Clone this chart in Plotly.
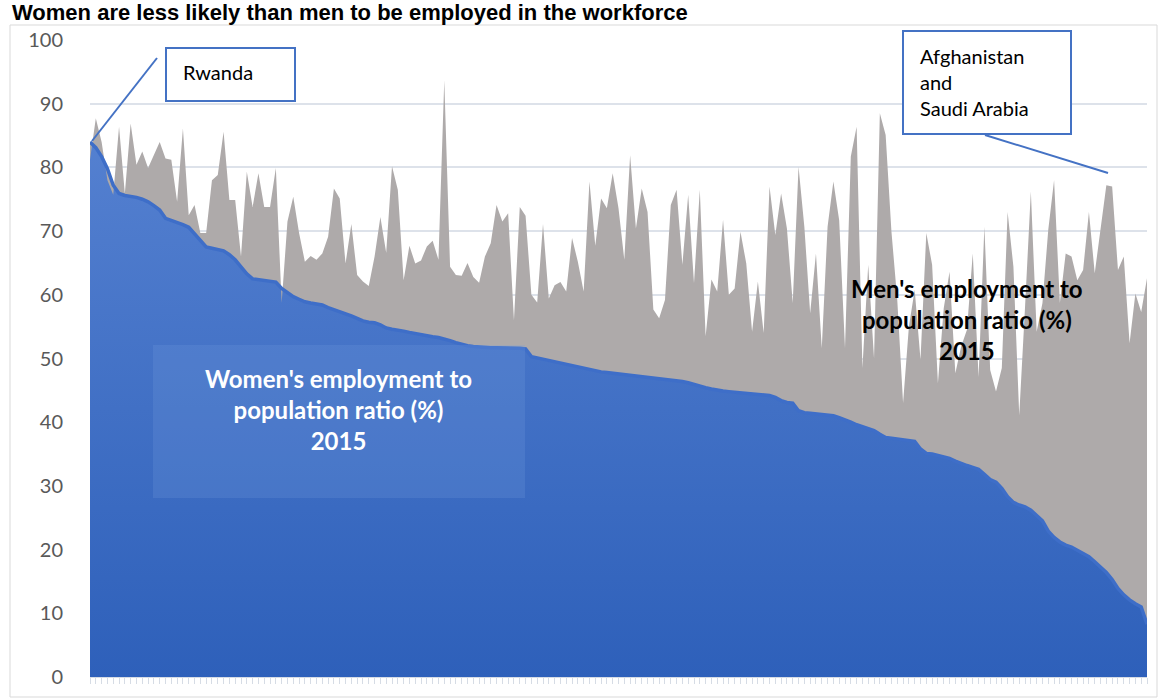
import plotly.graph_objects as go

# Employment-to-population ratio (%) 2015, countries sorted by women's ratio
women = [84.0, 83.1, 81.7, 79.8, 77.2, 75.9, 75.6, 75.5, 75.3, 75.0,
         74.6, 74.0, 73.3, 72.0, 71.7, 71.4, 71.0, 70.6, 69.6, 68.4,
         67.5, 67.3, 67.1, 66.9, 66.3, 65.5, 64.4, 63.3, 62.5, 62.4,
         62.3, 62.2, 62.0, 61.0, 60.3, 59.7, 59.3, 58.9, 58.7, 58.6,
         58.4, 58.0, 57.7, 57.4, 57.0, 56.7, 56.3, 55.9, 55.7, 55.6,
         55.3, 54.8, 54.6, 54.5, 54.3, 54.1, 53.9, 53.8, 53.6, 53.4,
         53.3, 53.1, 52.8, 52.5, 52.2, 52.0, 51.9, 51.8, 51.8, 51.7,
         51.7, 51.7, 51.6, 51.6, 51.6, 51.5, 50.3, 50.1, 49.9, 49.7,
         49.5, 49.3, 49.0, 48.8, 48.7, 48.5, 48.3, 48.1, 47.9, 47.8,
         47.7, 47.6, 47.5, 47.4, 47.3, 47.2, 47.1, 47.0, 46.9, 46.8,
         46.7, 46.6, 46.4, 46.2, 45.9, 45.7, 45.4, 45.2, 45.0, 44.9,
         44.8, 44.7, 44.6, 44.5, 44.5, 44.4, 44.3, 44.2, 43.9, 43.4,
         43.1, 43.0, 41.8, 41.5, 41.4, 41.3, 41.2, 41.1, 41.0, 40.7,
         40.4, 40.0, 39.6, 39.3, 39.0, 38.7, 38.1, 37.6, 37.5, 37.4,
         37.3, 37.2, 37.0, 35.8, 35.1, 35.0, 34.8, 34.6, 34.3, 33.9,
         33.5, 33.2, 32.9, 32.6, 31.8, 31.0, 30.6, 29.6, 28.3, 27.4,
         27.0, 26.7, 26.2, 25.4, 24.5, 22.9, 21.9, 21.2, 20.7, 20.4,
         19.9, 19.4, 18.9, 18.1, 17.2, 16.4, 15.3, 13.9, 12.9, 12.1,
         11.5, 11.0, 8.3]

men = [81.2, 87.7, 84.0, 78.0, 75.7, 86.4, 75.9, 86.9, 80.4, 82.5,
       79.9, 82.0, 84.0, 81.4, 81.2, 74.6, 86.1, 72.5, 74.1, 69.7,
       69.7, 78.0, 78.8, 85.6, 74.9, 74.9, 66.0, 79.3, 73.8, 79.1,
       73.8, 73.8, 79.9, 58.7, 71.5, 75.4, 69.7, 65.2, 66.1, 65.5,
       66.5, 69.1, 76.7, 75.1, 64.9, 71.1, 63.1, 62.1, 61.4, 66.0,
       72.2, 66.6, 80.2, 76.5, 62.3, 67.7, 64.9, 65.4, 67.6, 68.5,
       65.5, 93.7, 64.4, 63.1, 63.0, 65.0, 62.8, 61.9, 66.0, 68.1,
       74.1, 71.5, 72.8, 56.0, 73.8, 72.4, 60.0, 58.8, 71.1, 59.4,
       61.5, 62.0, 60.5, 68.9, 65.2, 60.5, 77.8, 67.7, 75.1, 73.6,
       79.1, 73.6, 65.5, 81.9, 70.4, 76.7, 73.0, 57.7, 56.3, 59.2,
       74.1, 76.5, 64.7, 75.7, 61.8, 76.5, 53.5, 62.4, 60.5, 71.8,
       60.0, 61.0, 69.9, 64.9, 54.2, 62.1, 54.0, 77.0, 69.4, 75.9,
       70.4, 58.7, 80.1, 70.7, 57.1, 66.5, 51.6, 70.7, 77.8, 71.7,
       51.6, 81.7, 86.4, 48.5, 64.7, 50.0, 88.5, 85.1, 69.9, 59.2,
       43.0, 55.0, 60.8, 49.8, 69.7, 64.7, 46.1, 57.9, 63.6, 47.7,
       51.9, 54.5, 66.5, 47.1, 70.7, 48.2, 44.8, 48.5, 73.0, 64.4,
       41.1, 58.1, 76.2, 54.2, 58.7, 70.2, 78.0, 58.7, 66.5, 66.0,
       62.3, 63.9, 73.0, 63.4, 70.2, 77.2, 77.0, 63.9, 66.0, 52.4,
       60.2, 57.3, 62.6]

if len(women) != len(men):
    raise ValueError(f"series lengths differ: {len(women)} vs {len(men)}")

countries = list(range(len(women)))
y_ticks = [0, 10, 20, 30, 40, 50, 60, 70, 80, 90, 100]

BLUE = "#4472C4"
GREY = "#AEAAAA"

fig = go.Figure()

# women's area with a vertical blue gradient
fig.add_trace(go.Scatter(
    x=countries, y=women, mode="lines", line=dict(width=0, color=BLUE),
    fill="tozeroy",
    fillgradient=dict(type="vertical",
                      colorscale=[[0, "rgb(46,96,186)"], [1, "rgb(84,128,208)"]]),
    hoverinfo="skip", showlegend=False,
))
# gap up to men's ratio
fig.add_trace(go.Scatter(
    x=countries, y=men, mode="lines", line=dict(width=0, color=GREY),
    fill="tonexty", fillcolor=GREY, hoverinfo="skip", showlegend=False,
))
# women's outline drawn on top
fig.add_trace(go.Scatter(
    x=countries, y=women, mode="lines",
    line=dict(width=3.5, color="rgb(62,110,200)"),
    hoverinfo="skip", showlegend=False,
))

L, R, T, B = 90, 11, 40, 21
W, H = 1158, 698
pw, ph = W - L - R, H - T - B


def px(xp):
    return (xp - L) / pw


def py(yp):
    return (H - B - yp) / ph


shapes = [
    # outer chart border
    dict(type="rect", xref="paper", yref="paper", x0=px(10), x1=px(1157),
         y0=py(697), y1=py(25), line=dict(color="#D9D9D9", width=1),
         fillcolor="rgba(0,0,0,0)", layer="below"),
    # women's label panel
    dict(type="rect", xref="paper", yref="paper", x0=px(153), x1=px(525),
         y0=py(498), y1=py(345), line=dict(width=0),
         fillcolor="rgba(120,160,225,0.22)"),
    # callout boxes
    dict(type="rect", xref="paper", yref="paper", x0=px(166), x1=px(295),
         y0=py(101), y1=py(48), line=dict(color=BLUE, width=2),
         fillcolor="white"),
    dict(type="rect", xref="paper", yref="paper", x0=px(903), x1=px(1071),
         y0=py(134), y1=py(31), line=dict(color=BLUE, width=2),
         fillcolor="white"),
    # callout leader lines
    dict(type="line", xref="paper", yref="paper", x0=px(92), y0=py(141),
         x1=px(157), y1=py(58), line=dict(color=BLUE, width=2)),
    dict(type="line", xref="paper", yref="paper", x0=px(985), y0=py(135),
         x1=px(1108), y1=py(173), line=dict(color=BLUE, width=2)),
]

label_font = "Lato, 'Open Sans', sans-serif"
annotations = [
    dict(text="<b>Women are less likely than men to be employed in the workforce</b>",
         xref="paper", yref="paper", x=px(10), y=py(-2), xanchor="left",
         yanchor="top", showarrow=False,
         font=dict(family="'Liberation Sans', Arial, sans-serif", size=22,
                   color="black")),
    dict(text="Rwanda", xref="paper", yref="paper", x=px(181), y=py(72),
         xanchor="left", yanchor="middle", showarrow=False,
         font=dict(family=label_font, size=20, color="black")),
    dict(text="Afghanistan<br>and<br>Saudi Arabia", xref="paper", yref="paper",
         x=px(918), y=py(82), xanchor="left", yanchor="middle", align="left",
         showarrow=False,
         font=dict(family=label_font, size=20, color="black")),
    dict(text="<b>Women's employment to<br>population ratio (%)<br>2015</b>",
         xref="paper", yref="paper", x=px(338), y=py(409), xanchor="center",
         yanchor="middle", align="center", showarrow=False,
         font=dict(family=label_font, size=24, color="white")),
    dict(text="<b>Men's employment to<br>population ratio (%)<br>2015</b>",
         xref="paper", yref="paper", x=px(967), y=py(319), xanchor="center",
         yanchor="middle", align="center", showarrow=False,
         font=dict(family=label_font, size=24, color="black")),
]

fig.update_layout(
    width=W, height=H,
    margin=dict(l=L, r=R, t=T, b=B, pad=0),
    paper_bgcolor="white", plot_bgcolor="white",
    shapes=shapes, annotations=annotations,
    xaxis=dict(range=[0, len(countries) - 1], showgrid=False, zeroline=False,
               showticklabels=False, ticks="outside", tickmode="linear",
               tick0=0, dtick=1, ticklen=6, tickcolor="#D6DCE5",
               showline=True, linecolor="#D6DCE5", linewidth=1),
    yaxis=dict(range=[0, 100], tickvals=y_ticks, showgrid=True,
               gridcolor="#DDE2EA", gridwidth=2, zeroline=False,
               showline=False, ticks="", ticklabelstandoff=26,
               tickfont=dict(family=label_font, size=20, color="#595959")),
)

fig.write_html("out.html")
